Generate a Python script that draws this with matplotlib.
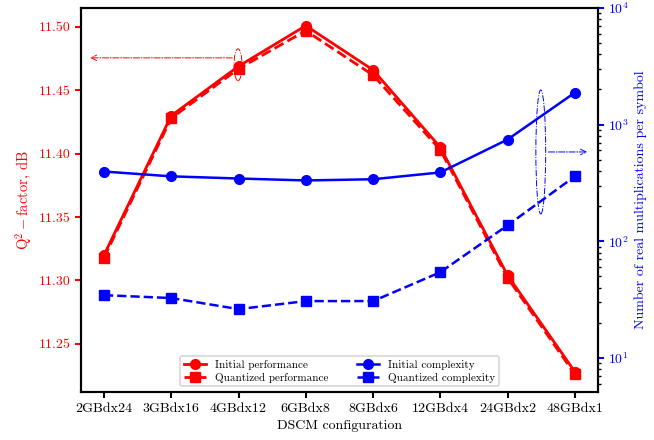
import numpy as np
import matplotlib
matplotlib.use("Agg")
from matplotlib import pyplot as plt
from matplotlib.patches import Ellipse

plt.rcParams['font.family'] = 'serif'
plt.rcParams['font.serif'] = ['cmr10', 'DejaVu Serif']
plt.rcParams['mathtext.fontset'] = 'cm'
plt.rcParams['axes.formatter.use_mathtext'] = True
plt.rcParams['font.size'] = 10

configs = ["2GBdx24", "3GBdx16", "4GBdx12", "6GBdx8", "8GBdx6", "12GBdx4", "24GBdx2", "48GBdx1"]
q_initial = [11.320, 11.430, 11.469, 11.501, 11.466, 11.405, 11.304, 11.228]
q_quantized = [11.318, 11.428, 11.467, 11.497, 11.462, 11.403, 11.302, 11.226]
cx_initial = [396, 360, 345, 332, 340, 389, 745, 1880]
cx_quantized = [34.5, 32.6, 26.2, 30.7, 30.7, 54.3, 137, 360]

x = np.arange(len(configs))

fig, ax = plt.subplots(figsize=(6.54, 4.4), dpi=100)
ax2 = ax.twinx()

l1, = ax.plot(x, q_initial, '-o', color='red', lw=2, ms=7, label='Initial performance')
l2, = ax.plot(x, q_quantized, '--s', color='red', lw=2, ms=7, label='Quantized performance')
l3, = ax2.plot(x, cx_initial, '-o', color='blue', lw=1.8, ms=7, label='Initial complexity')
l4, = ax2.plot(x, cx_quantized, '--s', color='blue', lw=1.8, ms=7, label='Quantized complexity')

ax.set_xlim(-0.34, 7.34)
ax.set_ylim(11.212, 11.515)
ax.set_yticks([11.25, 11.30, 11.35, 11.40, 11.45, 11.50])
ax.set_yticklabels(["11.25", "11.30", "11.35", "11.40", "11.45", "11.50"])
ax.set_xticks(x)
ax.set_xticklabels(configs)
ax.set_xlabel("DSCM configuration")
ax.set_ylabel(r"Q$^2-$factor, dB", color='red', fontsize=10.5)
ax.tick_params(axis='y', colors='red', direction='out', width=1.5, length=4)
ax.tick_params(axis='x', direction='out', width=1.5, length=4)

ax2.set_yscale('log')
ax2.set_ylim(5.1, 1e4)
ax2.set_ylabel("Number of real multiplications per symbol", color='blue')
ax2.tick_params(axis='y', which='major', colors='blue', width=1.5, length=4)
ax2.tick_params(axis='y', which='minor', width=1, length=2.5)

for a in (ax, ax2):
    for s in a.spines.values():
        s.set_linewidth(1.5)

# annotation ellipses + arrows (axes fraction)
ax.add_patch(Ellipse((0.3037, 0.852), 0.0155, 0.083, transform=ax.transAxes,
                     fill=False, ec='red', ls='-.', lw=0.7))
ax.annotate("", xy=(0.012, 0.870), xytext=(0.298, 0.870), xycoords='axes fraction',
            arrowprops=dict(arrowstyle='->', color='red', ls='-.', lw=0.7))
ax.add_patch(Ellipse((0.8897, 0.625), 0.019, 0.323, transform=ax.transAxes,
                     fill=False, ec='blue', ls='-.', lw=0.7))
ax.annotate("", xy=(0.985, 0.625), xytext=(0.899, 0.625), xycoords='axes fraction',
            arrowprops=dict(arrowstyle='->', color='blue', ls='-.', lw=0.7))

leg = ax2.legend([l1, l2, l3, l4], [h.get_label() for h in (l1, l2, l3, l4)],
                 loc='lower center', ncol=2, fontsize=8, columnspacing=2.6,
                 handlelength=2, borderpad=0.35, labelspacing=0.25,
                 bbox_to_anchor=(0.5, 0.0))
leg.get_frame().set_linewidth(1.2)

fig.subplots_adjust(left=0.124, right=0.914, top=0.982, bottom=0.109)
fig.savefig("out.png", dpi=100)
